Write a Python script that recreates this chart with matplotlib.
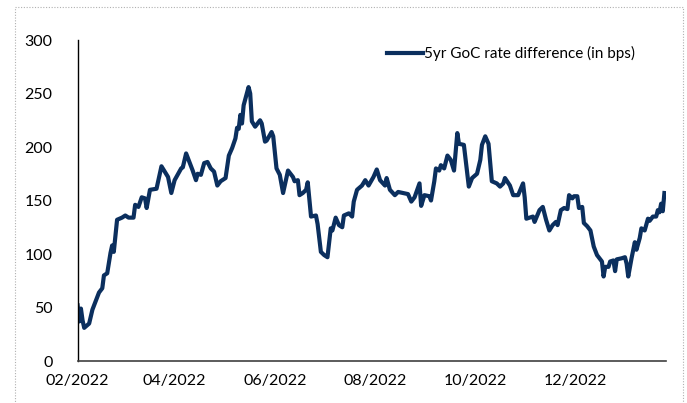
import numpy as np
import pandas as pd
import matplotlib
matplotlib.use("Agg")
import matplotlib.pyplot as plt
from matplotlib.patches import Rectangle

# days since 2022-02-01 and the 5yr GoC rate difference (bps)
days = [0, 1, 2, 3, 4, 7, 9, 13, 15, 16, 18, 20, 21, 22, 24, 27, 29, 31, 34, 35,
        37, 39, 41, 42, 44, 48, 51, 55, 57, 59, 63, 64, 66, 68, 70, 72, 73, 75, 77, 79,
        81, 83, 85, 87, 90, 92, 94, 96, 97, 98, 99, 100, 101, 104, 105, 106, 108, 111, 112, 114,
        115, 118, 119, 121, 123, 125, 128, 131, 132, 134, 135, 137, 139, 140, 142, 145, 146, 148, 150, 152,
        154, 155, 157, 159, 161, 162, 165, 167, 168, 170, 173, 175, 177, 180, 182, 184, 187, 188, 190, 193,
        195, 198, 201, 203, 205, 208, 209, 211, 214, 215, 217, 218, 220, 221, 223, 225, 227, 229, 231, 232,
        235, 238, 240, 243, 245, 246, 248, 250, 252, 255, 257, 259, 260, 263, 265, 268, 271, 272, 273, 275,
        277, 278, 281, 283, 285, 287, 289, 291, 292, 294, 296, 298, 299, 301, 302, 304, 305, 307, 308, 310,
        312, 314, 316, 319, 320, 321, 323, 324, 326, 327, 328, 331, 333, 334, 335, 337, 339, 340, 342, 343,
        345, 347, 348, 350, 352, 353, 354, 355, 356, 357]
spread = [52, 37, 49, 38, 31, 35, 48, 64, 68, 80, 82, 101, 108, 102, 132, 134, 136, 134, 134, 146,
          144, 153, 152, 143, 160, 161, 182, 172, 157, 169, 180, 181, 194, 186, 178, 169, 175, 174, 185, 186,
          180, 177, 164, 168, 171, 192, 199, 208, 218, 217, 230, 222, 239, 256, 250, 224, 219, 225, 222, 205,
          206, 214, 210, 180, 174, 157, 178, 172, 168, 169, 155, 157, 160, 167, 135, 136, 128, 102, 99, 97,
          124, 122, 134, 127, 125, 136, 138, 135, 149, 160, 164, 169, 164, 172, 179, 169, 164, 171, 160, 155,
          158, 157, 156, 149, 153, 166, 145, 155, 154, 150, 168, 180, 178, 183, 180, 192, 188, 178, 213, 203,
          202, 163, 171, 175, 188, 202, 210, 203, 168, 166, 163, 166, 171, 164, 155, 155, 166, 153, 133, 134,
          135, 130, 141, 144, 132, 122, 127, 130, 127, 141, 143, 142, 155, 152, 154, 154, 143, 144, 129, 126,
          122, 107, 99, 93, 79, 88, 88, 93, 94, 84, 95, 96, 97, 91, 79, 96, 111, 104, 115, 124,
          122, 133, 131, 135, 135, 141, 139, 147, 140, 157]

tick_dates = ["2022-02-01", "2022-04-01", "2022-06-01", "2022-08-01", "2022-10-01", "2022-12-01"]
tick_labels = ["02/2022", "04/2022", "06/2022", "08/2022", "10/2022", "12/2022"]
y_ticks = [0, 50, 100, 150, 200, 250, 300]

start = pd.Timestamp("2022-02-01")
dates = start + pd.to_timedelta(days, unit="D")

plt.rcParams['font.family'] = ['Lato', 'DejaVu Sans']

fig = plt.figure(figsize=(6.87, 4.03), dpi=100)
ax = fig.add_axes([0.113, 0.1042, 0.8565, 0.7965])

ax.plot(dates, spread, color='#0b2f5e', linewidth=3.0, solid_joinstyle='round',
        label='5yr GoC rate difference (in bps)')

ax.set_ylim(0, 300)
ax.set_xlim(start, start + pd.Timedelta(days=358))
ax.set_yticks(y_ticks)
ax.set_xticks(pd.to_datetime(tick_dates))
ax.set_xticklabels(tick_labels)
ax.tick_params(axis='y', length=0, pad=18, labelsize=11.5)
ax.tick_params(axis='x', length=0, pad=9, labelsize=11.5)

for s in ['top', 'right']:
    ax.spines[s].set_visible(False)
ax.spines['left'].set_color('black')
ax.spines['left'].set_linewidth(1.0)
ax.spines['bottom'].set_color('#404040')
ax.spines['bottom'].set_linewidth(1.2)

leg = ax.legend(loc='upper left', bbox_to_anchor=(0.511, 1.01), frameon=False,
                fontsize=11, handlelength=2.3, handletextpad=0.1, borderaxespad=0.2)

# dotted frame around the chart area
fig.patches.append(Rectangle((15 / 687, -0.05), 668 / 687, 1 - 7 / 403 + 0.05,
                             transform=fig.transFigure, fill=False, edgecolor='#b0b0b0',
                             linestyle=(0, (1, 1.5)), linewidth=0.8))

fig.savefig("out.png", dpi=100)
